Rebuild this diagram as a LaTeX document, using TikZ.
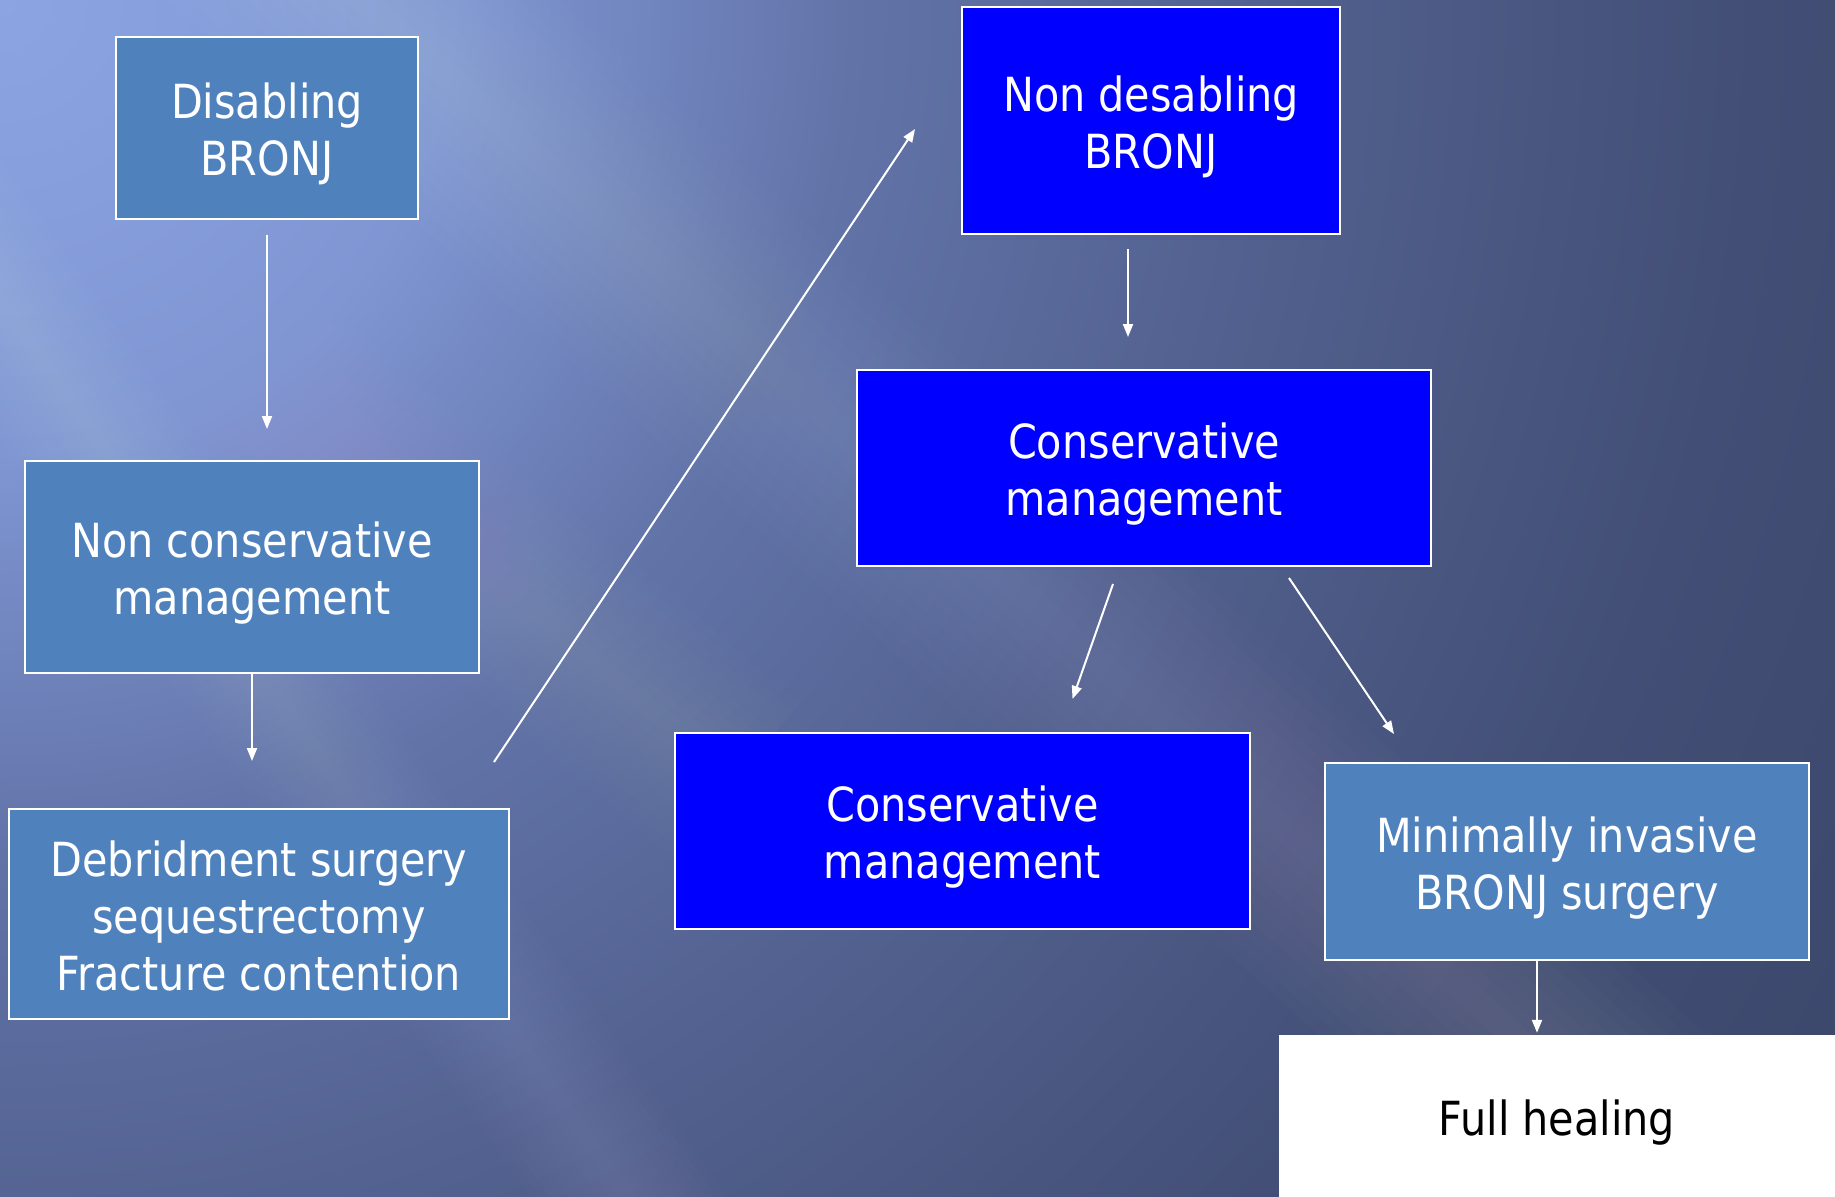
\documentclass[tikz,border=0pt]{standalone}
\usepackage{fontspec}
\setmainfont{DejaVu Sans}[FakeStretch=0.88]
\usetikzlibrary{arrows.meta,calc}
\definecolor{steel}{HTML}{4F81BD}
\definecolor{pureblue}{HTML}{0000FF}
\definecolor{bgA}{HTML}{8CA5E2}
\definecolor{bgB}{HTML}{7F96D3}
\definecolor{bgC}{HTML}{6273A8}
\definecolor{bgD}{HTML}{52618F}
\definecolor{bgE}{HTML}{424E75}
\definecolor{bgF}{HTML}{3A4669}
\pgfdeclareradialshading{bgshade}{\pgfpoint{0bp}{0bp}}{color(0bp)=(bgA); color(450bp)=(bgB); color(850bp)=(bgC); color(1250bp)=(bgD); color(1750bp)=(bgE); color(2200bp)=(bgF); color(2300bp)=(bgF)}
\newcommand\toprule{\rule{0pt}{50pt}}
\newcommand\botrule{\rule[-12pt]{0pt}{12pt}}
% soft streak: centre x, centre y, angle, half length, max half width, opacity per layer
\newcommand\streak[6]{%
  \foreach \w in {1,...,10}{%
    \fill[white,fill opacity=#6,rotate around={#3:(#1,#2)}]
      ({#1-#4},{#2-#5*\w/10}) rectangle ({#1+#4},{#2+#5*\w/10});}}
\begin{document}
\begin{tikzpicture}[x=1pt,y=-1pt,
  boxbase/.style={draw=white,line width=2pt,align=center,inner sep=0pt,
    font=\fontsize{47}{57}\selectfont},
  steelbox/.style={boxbase,fill=steel,text=white},
  bluebox/.style={boxbase,fill=pureblue,text=white},
  arr/.style={draw=white,line width=2pt,-{Triangle[length=13pt,width=10pt]}}]
\useasboundingbox (0,0) rectangle (1835,1196);
% background
\begin{scope}
\clip (0,0) rectangle (1835,1196);
\node[inner sep=0pt,outer sep=0pt] (bg) at (0,0) {\pgfuseshading{bgshade}};
\streak{830}{420}{-42}{1200}{130}{0.012}
\streak{420}{900}{-55}{900}{80}{0.010}
\streak{200}{330}{-40}{700}{100}{0.008}
\end{scope}
% boxes
\node[steelbox,minimum width=302pt,minimum height=182pt] (dis) at (267,128) {\toprule Disabling\\BRONJ\botrule};
\node[steelbox,minimum width=454pt,minimum height=212pt] (noncons) at (252,567) {\toprule Non conservative\\management\botrule};
\node[steelbox,minimum width=500pt,minimum height=210pt] (debr) at (259,914) {\toprule Debridment surgery\\sequestrectomy\\Fracture contention\botrule};
\node[bluebox,minimum width=378pt,minimum height=227pt] (nondis) at (1151,120.5) {\toprule Non desabling\\BRONJ\botrule};
\node[bluebox,minimum width=574pt,minimum height=196pt] (cons1) at (1144,468) {\toprule Conservative\\management\botrule};
\node[bluebox,minimum width=575pt,minimum height=196pt] (cons2) at (962.5,831) {\toprule Conservative\\management\botrule};
\node[steelbox,minimum width=484pt,minimum height=197pt] (mini) at (1567,861.5) {\toprule Minimally invasive\\BRONJ surgery\botrule};
\node[fill=white,draw=none,minimum width=556pt,minimum height=162pt,inner sep=0pt,
  text=black,font=\fontsize{47}{57}\selectfont] (full) at (1557,1116) {\toprule Full healing\botrule};
% free ends of the diagonal connector
\coordinate (c1) at (494,762);
\coordinate (c2) at (915,129);
% connectors
\draw[arr,shorten <=15pt,shorten >=31pt] (dis.south) -- (dis.south |- noncons.north);
\draw[arr,shorten >=47pt] (noncons.south) -- (noncons.south |- debr.north);
\draw[arr] (c1) -- (c2);
\draw[arr,shorten <=14pt,shorten >=32pt] ([xshift=-23pt]nondis.south) -- ([xshift=-23pt]nondis.south |- cons1.north);
\draw[arr] ([xshift=-31pt,yshift=-17pt]cons1.south) -- ([xshift=110pt,yshift=33pt]cons2.north);
\draw[arr] ([xshift=145pt,yshift=-11pt]cons1.south) -- ([xshift=-173pt,yshift=28pt]mini.north);
\draw[arr,shorten >=2pt] ([xshift=-30pt]mini.south) -- ([xshift=-30pt]mini.south |- full.north);
\end{tikzpicture}
\end{document}
